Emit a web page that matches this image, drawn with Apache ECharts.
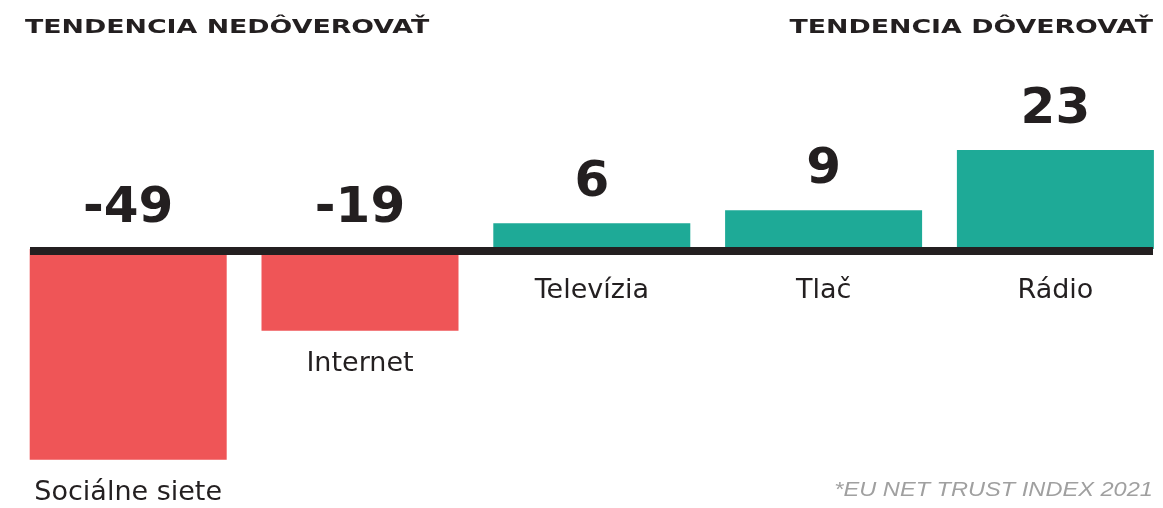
<!DOCTYPE html>
<html>
<head>
<meta charset="utf-8">
<title>Tendencia dôverovať</title>
<script src="https://cdn.jsdelivr.net/npm/echarts/dist/echarts.min.js"></script>
<style>
  html, body { margin: 0; padding: 0; background: #ffffff; overflow: hidden; }
  /* a bit wider than the window so the category bands can run past the right edge */
  #chart { width: 1190px; height: 508px; }
</style>
</head>
<body>
<div id="chart"></div>
<script>
  // data
  const categories = ['Sociálne siete', 'Internet', 'Televízia', 'Tlač', 'Rádio'];
  const values = [-49, -19, 6, 9, 23];
  const titleLeft = 'TENDENCIA NEDÔVEROVAŤ';
  const titleRight = 'TENDENCIA DÔVEROVAŤ';
  const sourceNote = '*EU NET TRUST INDEX 2021';

  const RED = '#ef5557';
  const TEAL = '#1eaa97';
  const INK = '#231f20';

  let chart = echarts.init(document.getElementById('chart'));

  let option = {
    animation: false,
    grid: [
      // bars
      { left: 12.3, width: 1159, top: 120, height: 344 },
      // only for the black baseline
      { left: 30, width: 1123, top: 122, height: 344 }
    ],
    xAxis: [
      {
        type: 'category',
        gridIndex: 0,
        data: categories,
        axisLine: { show: false },
        axisTick: { show: false },
        axisLabel: { show: false }
      },
      {
        type: 'value',
        gridIndex: 1,
        min: 0,
        max: 1,
        z: 10,
        axisLine: { show: true, onZero: true, lineStyle: { color: INK, width: 8, cap: 'butt' } },
        axisTick: { show: false },
        axisLabel: { show: false },
        splitLine: { show: false }
      }
    ],
    yAxis: [
      { type: 'value', gridIndex: 0, min: -50, max: 30, show: false },
      { type: 'value', gridIndex: 1, min: -50, max: 30, show: false }
    ],
    graphic: [
      {
        type: 'text', x: 25, y: 28, scaleX: 1.41,
        style: {
          text: titleLeft, x: 0, y: 0, align: 'left', verticalAlign: 'middle',
          font: 'bold 19px "DejaVu Sans"', fill: INK
        }
      },
      {
        type: 'text', x: 1153, y: 28, scaleX: 1.41,
        style: {
          text: titleRight, x: 0, y: 0, align: 'right', verticalAlign: 'middle',
          font: 'bold 19px "DejaVu Sans"', fill: INK
        }
      },
      {
        type: 'text', x: 1153, y: 490, scaleX: 1.18,
        style: {
          text: sourceNote, x: 0, y: 0, align: 'right', verticalAlign: 'middle',
          font: 'italic 20px "Liberation Sans"', fill: '#a0a0a0'
        }
      }
    ],
    series: [
      {
        // the bars with value labels
        type: 'bar',
        xAxisIndex: 0,
        yAxisIndex: 0,
        barWidth: 197,
        data: values.map(function (v) {
          return { value: v, itemStyle: { color: v < 0 ? RED : TEAL } };
        }),
        label: {
          show: true,
          position: 'top',
          distance: 15,
          fontFamily: 'DejaVu Sans',
          fontWeight: 'bold',
          fontSize: 50,
          color: INK
        }
      },
      {
        // invisible copy, carries the category names under each bar
        type: 'bar',
        xAxisIndex: 0,
        yAxisIndex: 0,
        barWidth: 197,
        barGap: '-100%',
        silent: true,
        itemStyle: { color: 'rgba(0,0,0,0)' },
        data: values.map(function (v) {
          return { value: v, label: { distance: v < 0 ? 20 : 28 } };
        }),
        label: {
          show: true,
          position: 'bottom',
          formatter: '{b}',
          fontFamily: 'DejaVu Sans',
          fontSize: 27,
          color: INK
        }
      }
    ]
  };

  chart.setOption(option);
</script>
</body>
</html>
